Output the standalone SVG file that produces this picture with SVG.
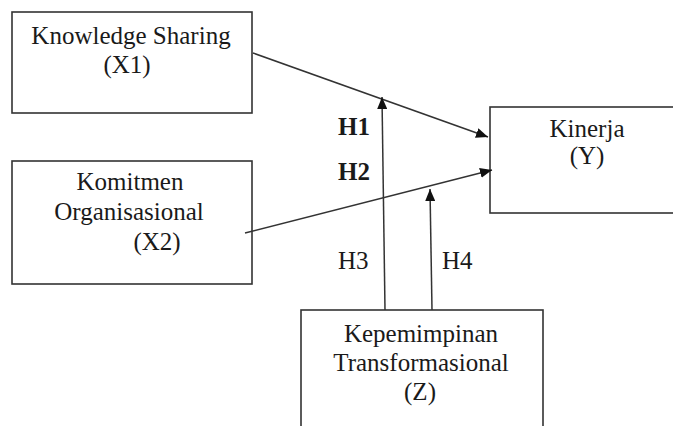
<svg xmlns="http://www.w3.org/2000/svg" width="673" height="426" viewBox="0 0 673 426">
<style>
.box{fill:#fff;stroke:#333;stroke-width:1.6}
.t{font-family:"Liberation Serif","Times New Roman",serif;font-size:25px;fill:#1a1a1a}
.c{text-anchor:middle}
.b{font-weight:bold}
.ln{stroke:#333;stroke-width:1.5;fill:none}
</style>
<defs>
<marker id="ah" viewBox="0 0 12 10" refX="12" refY="5" markerWidth="12" markerHeight="10" markerUnits="userSpaceOnUse" orient="auto">
<path d="M0,0 L12,5 L0,10 Z" fill="#111"/>
</marker>
</defs>
<rect width="673" height="426" fill="#fff"/>
<g id="x1">
<rect class="box" x="12" y="12" width="240" height="101"/>
<text class="t c" x="131" y="44">Knowledge Sharing</text>
<text class="t c" x="127" y="73">(X1)</text>
</g>
<g id="x2">
<rect class="box" x="12" y="161" width="240" height="123"/>
<text class="t c" x="130" y="190">Komitmen</text>
<text class="t c" x="129" y="220">Organisasional</text>
<text class="t c" x="157" y="250">(X2)</text>
</g>
<g id="y">
<rect class="box" x="490" y="107" width="200" height="106"/>
<text class="t c" x="587" y="137">Kinerja</text>
<text class="t c" x="587" y="164">(Y)</text>
</g>
<g id="z">
<rect class="box" x="301" y="310" width="242" height="130"/>
<text class="t c" x="421" y="342">Kepemimpinan</text>
<text class="t c" x="421" y="371">Transformasional</text>
<text class="t c" x="420" y="400">(Z)</text>
</g>
<g id="connectors">
<line class="ln" x1="253" y1="53" x2="488" y2="137" marker-end="url(#ah)"/>
<line class="ln" x1="245" y1="233" x2="492" y2="170" marker-end="url(#ah)"/>
<line class="ln" x1="385" y1="310" x2="382" y2="97" marker-end="url(#ah)"/>
<line class="ln" x1="432" y1="310" x2="430" y2="189" marker-end="url(#ah)"/>
</g>
<g id="labels">
<text class="t b" x="338" y="135">H1</text>
<text class="t b" x="338" y="180">H2</text>
<text class="t" x="338" y="269">H3</text>
<text class="t" x="442" y="269">H4</text>
</g>
</svg>
